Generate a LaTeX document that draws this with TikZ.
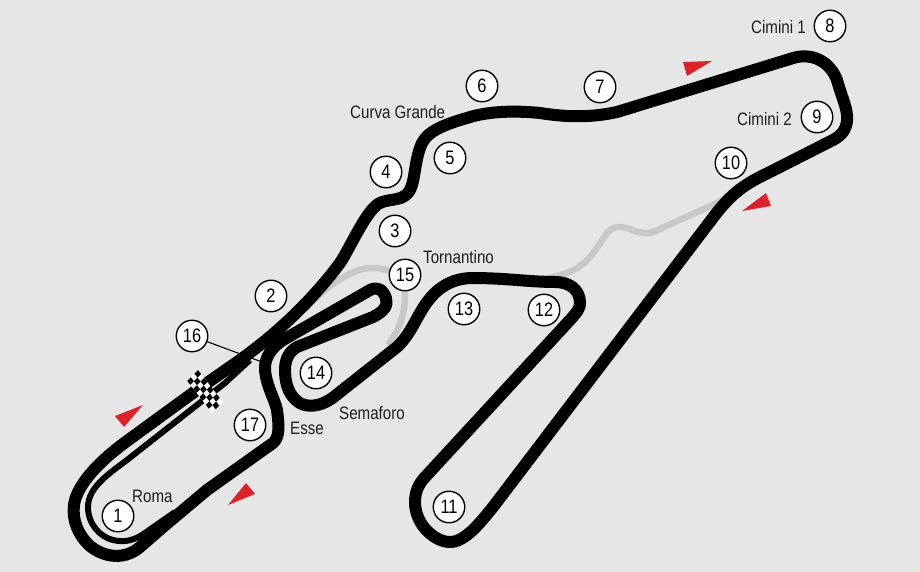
\documentclass[tikz,border=0pt]{standalone}
\usepackage{fontspec}
\setmainfont[FakeStretch=0.84]{Liberation Sans}
\definecolor{bgc}{RGB}{230,230,230}
\definecolor{redc}{RGB}{221,35,42}
\definecolor{grayc}{RGB}{200,200,200}
\definecolor{txt}{RGB}{30,30,30}
\tikzset{
 turn/.style={circle,draw=black,line width=1.4pt,fill=white,minimum size=31.5pt,inner sep=0pt,font=\fontsize{19.5}{19.5}\selectfont,text=black},
 lab/.style={font=\fontsize{18}{18}\selectfont,text=txt,inner sep=0pt},
 track/.style={draw=black,line width=12pt,line join=round,line cap=round},
 pit/.style={draw=black,line width=6pt,line join=round},
 service/.style={draw=grayc,line width=6.5pt,line join=round},
 flagmark/.style={fill=redc,draw=none}
}
\begin{document}
\begin{tikzpicture}[x=1pt,y=-1pt]
\useasboundingbox[fill=bgc] (0,0) rectangle (920,572);
% service roads
\draw[service] (305,309) .. controls (325,288) and (350,268) .. (372,268) .. controls (395,268) and (405,280) .. (405,297) .. controls (405,315) and (398,332) .. (388,345);
\draw[service] (745,185) -- (717,203) -- (660,229) .. controls (650,234) and (645,234) .. (635,231) .. controls (622,226) and (615,225) .. (608,232) .. controls (598,245) and (592,258) .. (580,266) .. controls (572,272) and (560,276) .. (545,279);
% turn 16 leader
\node[turn] (t16) at (192,336) {16};
\coordinate (p16) at (262,362);
\draw[line width=1.1pt,black] (t16) -- (p16);
% pit lane
\draw[pit] (250,360) -- (225,383) -- (127,460) .. controls (110,473) and (88,487) .. (88,507) .. controls (88,524) and (100,537) .. (113,540) .. controls (125,543) and (135,540) .. (145,533) -- (175,512);
% main track
\draw[track] (197,390) -- (240,360) .. controls (265,342) and (305,310) .. (340,263) .. controls (350,248) and (365,213) .. (378,204) .. controls (388,198) and (400,202) .. (408,193) .. controls (415,185) and (414,165) .. (420,148) .. controls (424,135) and (435,127) .. (467,118) .. controls (485,112) and (510,110) .. (540,113) .. controls (565,117) and (590,118) .. (617,112) -- (790,59) .. controls (812,51) and (830,62) .. (837,80) .. controls (841,95) and (846,105) .. (847,115) .. controls (848,127) and (843,135) .. (833,140) -- (770,172) .. controls (745,184) and (733,192) .. (715,215) -- (493,507) .. controls (480,523) and (465,542) .. (450,542) .. controls (435,542) and (415,525) .. (415,502) .. controls (415,490) and (420,482) .. (427,475) -- (570,320) .. controls (578,311) and (580,308) .. (580,303) .. controls (580,290) and (570,282) .. (555,282) .. controls (530,282) and (505,278) .. (473,278) .. controls (450,278) and (435,290) .. (425,305) .. controls (415,320) and (410,335) .. (397,347) -- (335,396) .. controls (320,408) and (305,408) .. (297,401) .. controls (287,393) and (285,380) .. (285,370) .. controls (285,358) and (290,351) .. (297,347) -- (373,317) .. controls (385,311) and (388,305) .. (386,298) .. controls (383,290) and (378,286) .. (370,290) -- (283,340) .. controls (272,347) and (264,358) .. (265,370) .. controls (266,385) and (275,400) .. (277,410) .. controls (279,425) and (280,437) .. (273,443) -- (207,490) -- (163,527) -- (140,547) .. controls (125,560) and (105,558) .. (90,546) .. controls (78,535) and (72,520) .. (74,505) .. controls (76,490) and (90,468) .. (127,441) -- cycle;
% flag
\fill[white] (198,370) -- ++(24.8,32) -- ++(-10.8,10.8) -- ++(-24.8,-32) -- cycle;
\foreach \c/\r in {0/0,2/0,4/0,6/0,1/1,3/1,5/1,7/1,0/2,2/2,4/2,6/2}{
 \fill[black] ({198+3.1*\c-3.6*\r},{370+4*\c+3.6*\r}) -- ++(3.1,4) -- ++(-3.6,3.6) -- ++(-3.1,-4) -- cycle;}
% red arrows
\fill[flagmark] (115,416) -- (143,405) -- (124,427) -- cycle;
\fill[flagmark] (228,505) -- (246,483) -- (255,494) -- cycle;
\fill[flagmark] (683,62) -- (712,61) -- (687,76) -- cycle;
\fill[flagmark] (742,211) -- (766,193) -- (771,206) -- cycle;
% turn numbers
\node[turn] (t1) at (118,516) {1};
\node[turn] (t2) at (271,296) {2};
\node[turn] (t3) at (395,231) {3};
\node[turn] (t4) at (386,172) {4};
\node[turn] (t5) at (450,158) {5};
\node[turn] (t6) at (482,86) {6};
\node[turn] (t7) at (600,87) {7};
\node[turn] (t8) at (830,26) {8};
\node[turn] (t9) at (817,117) {9};
\node[turn] (t10) at (731,163) {10};
\node[turn] (t11) at (449,507) {11};
\node[turn] (t12) at (544,310) {12};
\node[turn] (t13) at (464,309) {13};
\node[turn] (t14) at (316,373) {14};
\node[turn] (t15) at (405,275) {15};
\node[turn] (t17) at (250,425) {17};
% names
\node[lab,anchor=west] (n1) at (132,496) {Roma};
\node[lab,anchor=west] (n2) at (290,428) {Esse};
\node[lab,anchor=west] (n3) at (339,413) {Semaforo};
\node[lab,anchor=west] (n4) at (423,257) {Tornantino};
\node[lab,anchor=west] (n5) at (350,112) {Curva Grande};
\node[lab,anchor=west] (n6) at (751,27) {Cimini 1};
\node[lab,anchor=west] (n7) at (737,119) {Cimini 2};
\end{tikzpicture}
\end{document}
